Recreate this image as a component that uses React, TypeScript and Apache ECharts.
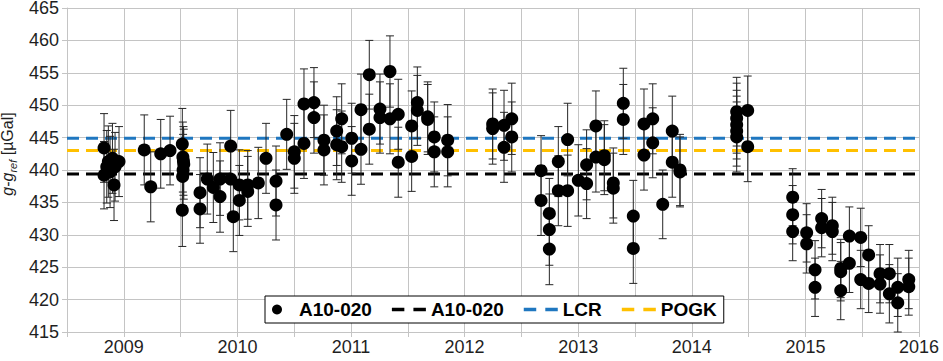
import React, { useEffect, useRef } from "react";
import * as echarts from "echarts";

// ---- axis setup ----
const xMin = 2008.5;
const xMax = 2016;
const xStep = 0.5;
const xLabelYears = [2009, 2010, 2011, 2012, 2013, 2014, 2015, 2016];
const yMin = 415;
const yMax = 465;
const yStep = 5;

// ---- reference levels ----
const levelA10 = 439.4;
const levelLCR = 444.9;
const levelPOGK = 443.0;

// ---- measurements: [decimal year, g - g_ref (µGal), uncertainty (µGal)] ----
const obs2008 = [
  [2008.826, 443.4, 5.3],
  [2008.826, 439.2, 5.2],
  [2008.85, 440.5, 5.6],
  [2008.864, 441.3, 5.5],
  [2008.879, 439.7, 5.5],
  [2008.9, 441.8, 5.4],
  [2008.914, 437.7, 5.5],
  [2008.923, 440.5, 5.3],
  [2008.958, 441.3, 5.4],
];
const obs2009 = [
  [2009.18, 443.1, 5.4],
  [2009.237, 437.4, 5.4],
  [2009.325, 442.5, 5.3],
  [2009.407, 443.0, 5.3],
  [2009.515, 444.0, 5.5],
  [2009.52, 442.0, 5.4],
  [2009.525, 441.4, 5.3],
  [2009.528, 440.9, 5.4],
  [2009.522, 440.0, 5.5],
  [2009.518, 439.0, 5.6],
  [2009.515, 433.8, 5.6],
  [2009.671, 436.5, 5.4],
  [2009.671, 434.0, 5.3],
  [2009.735, 438.6, 5.4],
  [2009.788, 437.3, 5.4],
  [2009.847, 438.6, 5.6],
  [2009.847, 435.9, 5.5],
  [2009.941, 443.7, 5.5],
  [2009.941, 438.6, 5.4],
  [2009.964, 432.8, 5.4],
];
const obs2010 = [
  [2010.017, 437.7, 5.4],
  [2010.017, 435.3, 5.4],
  [2010.091, 437.7, 5.3],
  [2010.091, 436.7, 5.4],
  [2010.184, 438.0, 5.5],
  [2010.252, 441.8, 5.4],
  [2010.34, 438.3, 5.4],
  [2010.34, 434.6, 5.4],
  [2010.434, 445.5, 5.4],
  [2010.501, 442.8, 5.6],
  [2010.501, 441.8, 5.4],
  [2010.586, 450.2, 5.4],
  [2010.586, 444.1, 5.4],
  [2010.674, 450.4, 5.4],
  [2010.674, 448.1, 5.5],
  [2010.762, 444.6, 5.4],
  [2010.762, 443.1, 5.4],
  [2010.874, 446.0, 5.3],
  [2010.874, 443.9, 5.4],
  [2010.918, 447.9, 5.4],
  [2010.918, 443.6, 5.5],
];
const obs2011 = [
  [2011.006, 444.9, 5.4],
  [2011.006, 441.4, 5.3],
  [2011.088, 449.3, 5.5],
  [2011.088, 443.2, 5.4],
  [2011.161, 454.7, 5.3],
  [2011.161, 446.3, 5.4],
  [2011.255, 449.4, 5.4],
  [2011.255, 448.1, 5.5],
  [2011.343, 455.2, 5.5],
  [2011.343, 447.9, 5.4],
  [2011.416, 448.6, 5.4],
  [2011.416, 441.2, 5.4],
  [2011.534, 446.8, 5.4],
  [2011.534, 442.1, 5.4],
  [2011.584, 450.4, 5.5],
  [2011.584, 449.2, 5.4],
  [2011.675, 448.2, 5.4],
  [2011.675, 447.8, 5.4],
  [2011.733, 445.1, 5.4],
  [2011.733, 442.8, 5.4],
  [2011.851, 444.6, 5.5],
  [2011.851, 442.8, 5.4],
];
const obs2012 = [
  [2012.247, 447.1, 5.4],
  [2012.247, 446.4, 5.5],
  [2012.347, 446.9, 5.4],
  [2012.347, 443.5, 5.4],
  [2012.415, 447.9, 5.5],
  [2012.415, 445.1, 5.4],
  [2012.673, 439.9, 5.4],
  [2012.673, 435.3, 5.4],
  [2012.746, 433.3, 5.4],
  [2012.746, 430.8, 5.5],
  [2012.746, 427.8, 5.5],
  [2012.825, 441.3, 5.4],
  [2012.825, 436.8, 5.4],
  [2012.907, 444.7, 5.6],
  [2012.907, 436.8, 5.5],
];
const obs2013 = [
  [2013.001, 438.4, 5.5],
  [2013.074, 440.8, 5.4],
  [2013.074, 437.9, 5.4],
  [2013.156, 446.8, 5.4],
  [2013.156, 442.0, 5.4],
  [2013.23, 442.2, 5.4],
  [2013.23, 441.6, 5.4],
  [2013.309, 438.0, 5.4],
  [2013.309, 437.2, 5.4],
  [2013.397, 450.3, 5.4],
  [2013.397, 447.8, 5.4],
  [2013.485, 432.9, 5.5],
  [2013.485, 427.9, 5.4],
  [2013.579, 447.1, 5.4],
  [2013.579, 442.3, 5.4],
  [2013.656, 447.9, 5.4],
  [2013.656, 444.2, 5.4],
  [2013.744, 434.7, 5.3],
  [2013.828, 446.0, 5.4],
  [2013.828, 441.2, 5.4],
  [2013.896, 440.0, 5.5],
  [2013.896, 439.7, 5.4],
];
const obs2014 = [
  [2014.395, 449.0, 5.3],
  [2014.395, 448.0, 5.4],
  [2014.395, 447.0, 5.3],
  [2014.395, 446.0, 5.4],
  [2014.395, 445.1, 5.4],
  [2014.492, 449.2, 5.3],
  [2014.492, 443.6, 5.4],
  [2014.888, 435.8, 4.4],
  [2014.888, 433.1, 4.5],
  [2014.888, 430.5, 4.5],
];
const obs2015 = [
  [2015.011, 430.3, 4.5],
  [2015.011, 428.6, 4.5],
  [2015.085, 424.6, 4.5],
  [2015.085, 421.9, 4.5],
  [2015.143, 432.5, 4.5],
  [2015.143, 431.1, 4.5],
  [2015.237, 431.4, 4.4],
  [2015.237, 430.5, 4.5],
  [2015.311, 424.8, 4.5],
  [2015.311, 424.3, 4.5],
  [2015.311, 421.4, 4.5],
  [2015.387, 429.8, 4.5],
  [2015.387, 425.6, 4.5],
  [2015.487, 429.6, 4.5],
  [2015.487, 423.1, 4.5],
  [2015.557, 426.9, 4.5],
  [2015.557, 422.5, 4.5],
  [2015.657, 424.0, 4.5],
  [2015.657, 422.4, 4.5],
  [2015.739, 424.0, 4.5],
  [2015.739, 420.9, 4.5],
  [2015.813, 421.9, 4.5],
  [2015.813, 419.5, 4.5],
  [2015.91, 423.1, 4.5],
  [2015.91, 422.0, 4.4],
];

const FONT = "'Liberation Sans', Arial, Helvetica, sans-serif";
const GRID_COLOR = "#c4c4c4";
const TEXT_COLOR = "#1f1f1f";
const DASH_ICON = "path://M0,0h11v3H0zM19,0h11v3H19z";

export default function App() {
  const ref = useRef<HTMLDivElement>(null);

  useEffect(() => {
    document.body.style.margin = "0";
    if (!ref.current) return;
    const chart = echarts.init(ref.current, undefined, { renderer: "svg" });

    const allObs = [
      ...obs2008,
      ...obs2009,
      ...obs2010,
      ...obs2011,
      ...obs2012,
      ...obs2013,
      ...obs2014,
      ...obs2015,
    ];
    const points = allObs.map((o) => [o[0], o[1]]);
    const bars = allObs.map((o) => [o[0], o[1] - o[2], o[1] + o[2]]);
    const levelLine = (v: number) => [
      [xMin, v],
      [xMax, v],
    ];

    const titleToken = (extra: any) => ({
      fontSize: 16,
      fontFamily: FONT,
      color: TEXT_COLOR,
      lineHeight: 16,
      verticalAlign: "top",
      ...extra,
    });

    const option: any = {
      animation: false,
      backgroundColor: "#ffffff",
      grid: {
        left: 67,
        right: 24,
        top: 8,
        bottom: 29,
        containLabel: false,
        outerBoundsMode: "none",
      },
      xAxis: {
        type: "value",
        min: xMin,
        max: xMax,
        interval: xStep,
        axisLine: { show: true, lineStyle: { color: GRID_COLOR, width: 1 } },
        axisTick: { show: true, length: 5, lineStyle: { color: GRID_COLOR } },
        splitLine: { show: true, lineStyle: { color: GRID_COLOR, width: 1 } },
        axisLabel: {
          fontSize: 18,
          fontFamily: FONT,
          color: TEXT_COLOR,
          margin: 6,
          showMinLabel: true,
          showMaxLabel: true,
          hideOverlap: false,
          formatter: (v: number) =>
            xLabelYears.indexOf(v) >= 0 ? String(v) : "",
        },
      },
      yAxis: {
        type: "value",
        min: yMin,
        max: yMax,
        interval: yStep,
        name: "{i|g}{n|-}{i|g}{sub|ref}{n| [µGal]}",
        nameLocation: "middle",
        nameGap: 46,
        nameTextStyle: {
          fontSize: 16,
          fontFamily: FONT,
          color: TEXT_COLOR,
          padding: [0, 0, 0, 32],
          rich: {
            i: titleToken({ fontStyle: "italic" }),
            n: titleToken({}),
            sub: titleToken({
              fontSize: 11,
              lineHeight: 11,
              fontStyle: "italic",
              padding: [8, 0, 0, 0],
            }),
          },
        },
        axisLine: { show: true, lineStyle: { color: GRID_COLOR, width: 1 } },
        axisTick: { show: true, length: 5, lineStyle: { color: GRID_COLOR } },
        splitLine: { show: true, lineStyle: { color: GRID_COLOR, width: 1 } },
        axisLabel: {
          fontSize: 18,
          lineHeight: 15,
          fontFamily: FONT,
          color: TEXT_COLOR,
          margin: 8,
        },
      },
      legend: {
        left: 265,
        top: 296,
        orient: "horizontal",
        data: [
          { name: "A10-020", icon: "circle" },
          { name: "A10-020 mean", icon: DASH_ICON },
          { name: "LCR", icon: DASH_ICON },
          { name: "POGK", icon: DASH_ICON },
        ],
        formatter: (n: string) => (n === "A10-020 mean" ? "A10-020" : n),
        itemWidth: 34,
        itemHeight: 10,
        itemGap: 20,
        padding: [4, 7],
        borderColor: "#000",
        borderWidth: 1,
        backgroundColor: "#ffffff",
        symbolKeepAspect: true,
        selectedMode: false,
        textStyle: {
          fontSize: 19,
          fontWeight: "bold",
          fontFamily: FONT,
          color: "#000",
        },
      },
      series: [
        {
          name: "A10-020 mean",
          type: "line",
          data: levelLine(levelA10),
          symbol: "none",
          z: 3,
          lineStyle: { color: "#000000", width: 3, type: [12, 7] },
          itemStyle: { color: "#000000" },
        },
        {
          name: "LCR",
          type: "line",
          data: levelLine(levelLCR),
          symbol: "none",
          z: 3,
          lineStyle: { color: "#1f77c0", width: 3, type: [12, 7] },
          itemStyle: { color: "#1f77c0" },
        },
        {
          name: "POGK",
          type: "line",
          data: levelLine(levelPOGK),
          symbol: "none",
          z: 3,
          lineStyle: { color: "#ffc000", width: 3, type: [12, 7] },
          itemStyle: { color: "#ffc000" },
        },
        {
          name: "uncertainty",
          type: "custom",
          data: bars,
          z: 4,
          encode: { x: 0, y: [1, 2] },
          renderItem: (_params: any, api: any) => {
            const x = api.value(0);
            const lo = api.coord([x, api.value(1)]);
            const hi = api.coord([x, api.value(2)]);
            const hw = 4;
            const style = { stroke: "#262626", lineWidth: 1 };
            return {
              type: "group",
              children: [
                {
                  type: "line",
                  shape: { x1: lo[0], y1: lo[1], x2: hi[0], y2: hi[1] },
                  style,
                },
                {
                  type: "line",
                  shape: { x1: lo[0] - hw, y1: lo[1], x2: lo[0] + hw, y2: lo[1] },
                  style,
                },
                {
                  type: "line",
                  shape: { x1: hi[0] - hw, y1: hi[1], x2: hi[0] + hw, y2: hi[1] },
                  style,
                },
              ],
            };
          },
        },
        {
          name: "A10-020",
          type: "scatter",
          data: points,
          symbol: "circle",
          symbolSize: 13,
          z: 5,
          itemStyle: { color: "#000000", opacity: 1 },
        },
      ],
    };

    chart.setOption(option);
    return () => {
      chart.dispose();
    };
  }, []);

  return (
    <div
      ref={ref}
      style={{ position: "absolute", left: 0, top: 0, width: 943, height: 361 }}
    />
  );
}
